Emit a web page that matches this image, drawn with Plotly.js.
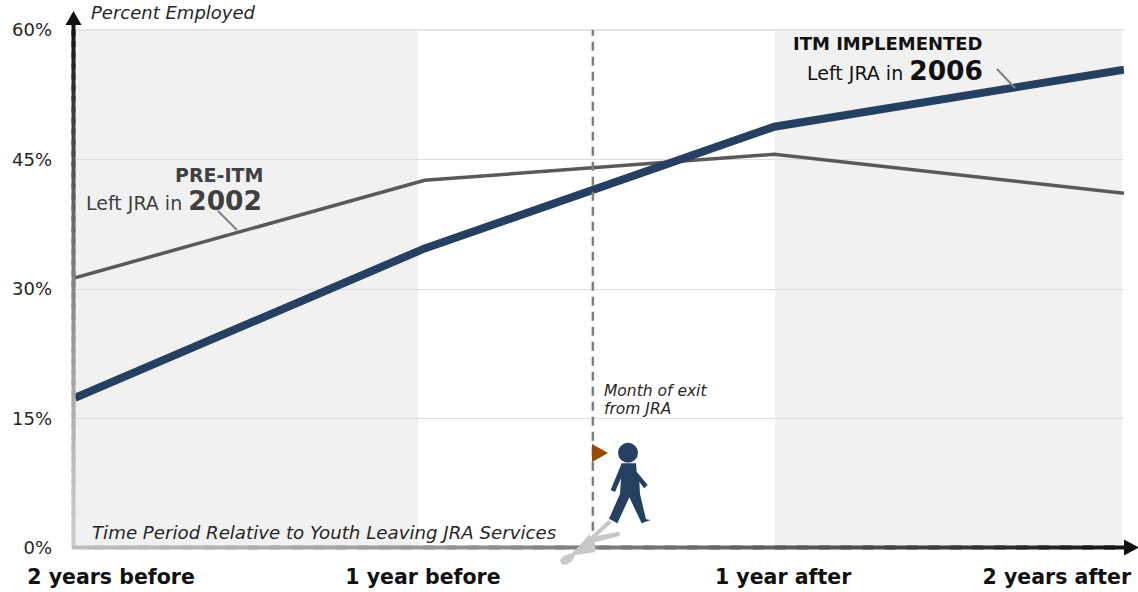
<!DOCTYPE html>
<html>
<head>
<meta charset="utf-8">
<script src="https://cdn.plot.ly/plotly-3.0.1.min.js"></script>
<style>html,body{margin:0;padding:0;background:#fff}#chart{width:1138px;height:592px}</style>
</head>
<body>
<div id="chart"></div>
<script>
// Employment rate by period around leaving JRA services
const periods = [0, 1, 2, 3];
const cohort2006 = [17.4, 34.7, 48.8, 55.4];
const cohort2002 = [31.3, 42.6, 45.6, 41.1];
const periodLabels = ['2 years before', '1 year before', '1 year after', '2 years after'];
const labelCentres = [0.103, 0.995, 2.025, 2.808];
const percentTicks = [0, 15, 30, 45, 60];
const percentLabels = ['0%', '15%', '30%', '45%', '60%'];
const exitMonth = 1.481;

const FONT = 'DejaVu Sans, Verdana, sans-serif';
const M = {l: 75, r: 14, t: 30, b: 44};
const plotW = 1138 - M.l - M.r;
const plotH = 592 - M.t - M.b;
// Helpers for placing decoration by screen position, in paper fractions
const dx = p => (p - M.l) / plotW;
const dy = p => (592 - M.b - p) / plotH;

function ramp(t, a, b) {
  const v = Math.round(a + (b - a) * Math.pow(t, 1.4));
  return `rgb(${v},${v},${v})`;
}

const shapes = [];
const paperLine = (x0, y0, x1, y1, line) => ({type: 'line', xref: 'paper', yref: 'paper',
  x0: dx(x0), y0: dy(y0), x1: dx(x1), y1: dy(y1), line});

const box = (x0, x1) => ({type: 'rect', layer: 'below', xref: 'paper', yref: 'paper',
  x0: dx(x0), x1: dx(x1), y0: 0, y1: 1, fillcolor: '#f1f1f1', line: {width: 0}});
shapes.push(box(72, 418), box(775, 1122));

// Top gridline sits on the edge of the plot area
shapes.push(Object.assign(paperLine(75, 30, 1124, 30, {color: '#dedede', width: 1.5}), {layer: 'below'}));

// Exit marker line
shapes.push({type: 'line', xref: 'x', yref: 'y', x0: exitMonth, x1: exitMonth,
  y0: 2, y1: 60, line: {color: '#7f7f7f', width: 2.5, dash: '9px,6px'}});

// Leader lines from the labels to their series
shapes.push(paperLine(218, 211, 237, 230, {color: '#808080', width: 2}));
shapes.push(paperLine(997, 69, 1015, 88, {color: '#808080', width: 2}));

// Axes fade toward the origin, built from short overlapping segments
const STEPS = 48;
const OVERLAP = 1 / STEPS / 2;
for (let i = 0; i < STEPS; i++) {
  const a = i / STEPS, b = (i + 1) / STEPS;
  const e = i === STEPS - 1 ? b : b + OVERLAP;
  shapes.push(paperLine(73.5, 549 - a * 524, 73.5, 549 - e * 524, {color: ramp(b, 205, 20), width: 4}));
  shapes.push(paperLine(72 + a * 1054, 547.5, 72 + e * 1054, 547.5, {color: ramp(b, 190, 20), width: 4}));
}

// Axis arrowheads, exit triangle and walking figure use pixel paths around an anchor
const pixelPath = (ax, ay, path, color) => ({type: 'path', xref: 'paper', yref: 'paper',
  xsizemode: 'pixel', ysizemode: 'pixel',
  xanchor: dx(ax), yanchor: dy(ay), path, fillcolor: color, line: {width: 0}});
function poly(pts) {
  return 'M' + pts.map(p => `${p[0] / 3},${-p[1] / 3}`).join('L') + 'Z';
}
const pixelEllipse = (cx, cy, rx, ry, color) => ({type: 'circle', xref: 'paper', yref: 'paper',
  xsizemode: 'pixel', ysizemode: 'pixel', xanchor: dx(cx), yanchor: dy(cy),
  x0: -rx, x1: rx, y0: -ry, y1: ry, fillcolor: color, line: {width: 0}});

shapes.push(pixelPath(73.5, 25, 'M-8,0L8,0L0,14Z', '#111'));
shapes.push(pixelPath(1124, 547.5, 'M0,-8L0,8L15,0Z', '#111'));
shapes.push(pixelPath(592, 453, 'M0,9L0,-9L16,0Z', '#984807'));

const figure = [[245,280],[288,280],[290,305],[323,345],[312,355],[298,335],[300,372],
  [318,448],[332,450],[305,460],[268,382],[232,460],[207,446],[240,372],[243,325],[225,366],[212,360]];
const shadow = [[205,450],[216,458],[172,497],[238,485],[240,497],[165,517],[166,546],[105,556],
  [96,574],[78,584],[64,582],[60,571],[70,558],[95,550],[118,527],[148,493],[152,500]];
shapes.push(pixelPath(540, 370, poly(shadow), '#c8c8c8'));
shapes.push(pixelPath(540, 370, poly(figure), '#254061'));
shapes.push(pixelEllipse(628, 452.7, 10, 10, '#254061'));

const note = (px, py, text, size, color, anchor) => ({xref: 'paper', yref: 'paper', x: dx(px), y: dy(py), text,
  showarrow: false, borderpad: 0, xanchor: anchor || 'left', yanchor: 'middle', font: {family: FONT, size, color}});
const big = s => `<span style="font-size:26.5px"><b>${s}</b></span>`;

const annotations = [
  note(90, 13, '<i>Percent Employed</i>', 18, '#262626'),
  note(91, 532, '<i>Time Period Relative to Youth Leaving JRA Services</i>', 18.2, '#262626'),
  note(603, 391, '<i>Month of exit</i>', 15.5, '#262626'),
  note(603, 409, '<i>from JRA</i>', 15.5, '#262626'),
  note(264, 175, '<b>PRE-ITM</b>', 19, '#404040', 'right'),
  note(263, 200, 'Left JRA in ' + big('2002'), 19, '#404040', 'right'),
  note(984, 44, '<b>ITM IMPLEMENTED</b>', 18, '#111', 'right'),
  note(984, 71, 'Left JRA in ' + big('2006'), 19, '#111', 'right')
];

const traces = [
  {x: periods, y: cohort2002, type: 'scatter', mode: 'lines', name: 'Left JRA in 2002',
   line: {color: '#595959', width: 3.5}, hoverinfo: 'skip'},
  {x: periods, y: cohort2006, type: 'scatter', mode: 'lines', name: 'Left JRA in 2006',
   line: {color: '#254061', width: 8}, hoverinfo: 'skip'}
];

const layout = {
  width: 1138, height: 592, margin: M, showlegend: false,
  paper_bgcolor: '#fff', plot_bgcolor: 'rgba(0,0,0,0)',
  xaxis: {range: [0, 3], tickmode: 'array', tickvals: labelCentres, ticktext: periodLabels,
    showgrid: false, zeroline: false, showline: false, ticks: '', ticklabelstandoff: 14,
    tickfont: {family: FONT, size: 20.5, color: '#111', weight: 'bold'}},
  yaxis: {range: [0, 60], tickmode: 'array', tickvals: percentTicks, ticktext: percentLabels,
    showgrid: true, gridcolor: '#dedede', gridwidth: 1, zeroline: false, showline: false, ticks: '',
    ticklabelstandoff: 22, tickfont: {family: FONT, size: 18, color: '#262626'}},
  shapes, annotations
};

Plotly.newPlot('chart', traces, layout, {displayModeBar: false, staticPlot: true});
</script>
</body>
</html>
